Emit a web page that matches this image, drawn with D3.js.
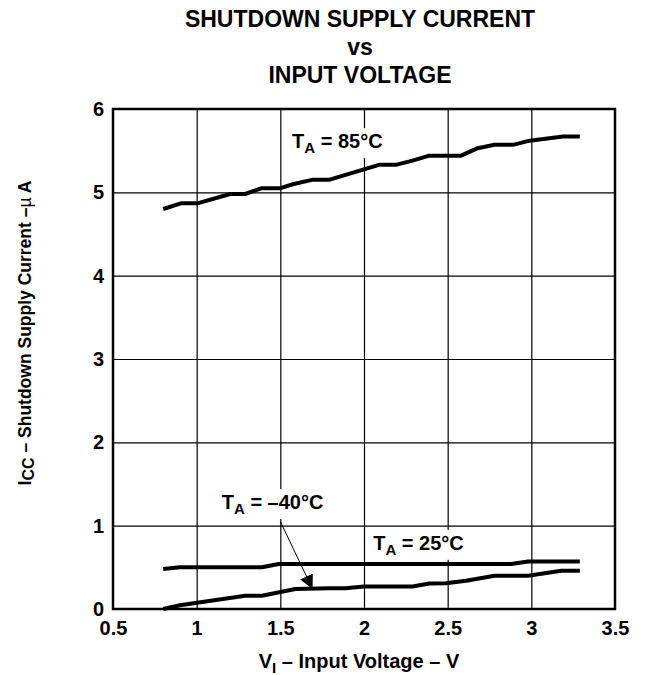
<!DOCTYPE html>
<html>
<head>
<meta charset="utf-8">
<script src="https://cdn.jsdelivr.net/npm/d3@7"></script>
<style>
  body { margin: 0; background: white; }
  text { font-family: "Liberation Sans", Arial, sans-serif; font-weight: bold; fill: black; }
</style>
</head>
<body>
<script>
// chart values
var xTicks = [0.5, 1, 1.5, 2, 2.5, 3, 3.5];
var yTicks = [0, 1, 2, 3, 4, 5, 6];
var titleLines = ['SHUTDOWN SUPPLY CURRENT', 'vs', 'INPUT VOLTAGE'];

var volt85 = [0.8, 0.91, 1.01, 1.2, 1.29, 1.39, 1.5, 1.58, 1.69, 1.79, 2.09, 2.19, 2.29, 2.39, 2.58, 2.68, 2.78, 2.89, 2.99, 3.19, 3.29];
var curr85 = [4.80, 4.87, 4.87, 4.98, 4.98, 5.05, 5.05, 5.10, 5.15, 5.15, 5.33, 5.33, 5.38, 5.44, 5.44, 5.53, 5.57, 5.57, 5.62, 5.67, 5.67];

var volt25 = [0.8, 0.9, 1.39, 1.49, 2.88, 2.98, 3.29];
var curr25 = [0.48, 0.50, 0.50, 0.54, 0.54, 0.57, 0.57];

var voltM40 = [0.8, 0.9, 1.29, 1.39, 1.59, 1.79, 1.89, 2.0, 2.29, 2.39, 2.49, 2.61, 2.78, 2.98, 3.18, 3.29];
var currM40 = [0.0, 0.045, 0.16, 0.16, 0.24, 0.25, 0.25, 0.27, 0.27, 0.305, 0.31, 0.34, 0.40, 0.40, 0.46, 0.46];

// curve labels, placed in data units
var labels = [
  { rest: ' = 85\u00b0C', v: 1.57, i: 5.53 },
  { rest: ' = \u201340\u00b0C', v: 1.15, i: 1.2 },
  { rest: ' = 25\u00b0C', v: 2.055, i: 0.71 }
];
var arrowFrom = [1.5, 1.05];
var arrowTo = [1.69, 0.25];

var opts = {
  width: 647,
  height: 675,
  left: 113,
  right: 615,
  top: 109,
  bottom: 609
};

var svg = d3.select('body').append('svg')
  .attr('width', opts.width)
  .attr('height', opts.height);

var x = d3.scaleLinear().domain([0.5, 3.5]).range([opts.left, opts.right]);
var y = d3.scaleLinear().domain([0, 6]).range([opts.bottom, opts.top]);

// grid
svg.append('g')
  .attr('transform', 'translate(0,' + opts.bottom + ')')
  .call(d3.axisBottom(x).tickValues(xTicks.slice(1, -1)).tickSize(-(opts.bottom - opts.top)).tickFormat(''))
  .call(function(g) { g.select('.domain').remove(); })
  .selectAll('line').attr('stroke', '#000').attr('stroke-width', 1.2);

svg.append('g')
  .attr('transform', 'translate(' + opts.left + ',0)')
  .call(d3.axisLeft(y).tickValues(yTicks.slice(1, -1)).tickSize(-(opts.right - opts.left)).tickFormat(''))
  .call(function(g) { g.select('.domain').remove(); })
  .selectAll('line').attr('stroke', '#000').attr('stroke-width', 1.2);

// tick labels
var xAxis = svg.append('g')
  .attr('transform', 'translate(0,' + opts.bottom + ')')
  .call(d3.axisBottom(x).tickValues(xTicks).tickSize(0).tickPadding(12).tickFormat(d3.format('')));
xAxis.select('.domain').remove();
xAxis.selectAll('text').attr('font-size', 20).attr('font-family', null);

var yAxis = svg.append('g')
  .attr('transform', 'translate(' + opts.left + ',0)')
  .call(d3.axisLeft(y).tickValues(yTicks).tickSize(0).tickPadding(9).tickFormat(d3.format('')));
yAxis.select('.domain').remove();
yAxis.selectAll('text').attr('font-size', 20).attr('font-family', null);

// curve labels with white backing
var labelGroup = svg.append('g');
labels.forEach(function(l) {
  var g = labelGroup.append('g');
  var t = g.append('text')
    .attr('x', x(l.v))
    .attr('y', y(l.i))
    .attr('font-size', 20);
  t.append('tspan').text('T');
  t.append('tspan').attr('font-size', 15).attr('dy', 5).text('A');
  t.append('tspan').attr('dy', -5).text(l.rest);
  var b = t.node().getBBox();
  g.insert('rect', 'text')
    .attr('x', b.x - 6)
    .attr('y', b.y - 2)
    .attr('width', b.width + 12)
    .attr('height', b.height + 4)
    .attr('fill', 'white');
});

// curves
var line = d3.line()
  .x(function(d) { return x(d[0]); })
  .y(function(d) { return y(d[1]); });

var series = [
  d3.zip(volt85, curr85),
  d3.zip(volt25, curr25),
  d3.zip(voltM40, currM40)
];

svg.selectAll('.curve')
  .data(series)
  .enter().append('path')
  .attr('class', 'curve')
  .attr('d', line)
  .attr('fill', 'none')
  .attr('stroke', '#000')
  .attr('stroke-width', 4)
  .attr('stroke-linejoin', 'round');

// frame
svg.append('rect')
  .attr('x', opts.left)
  .attr('y', opts.top)
  .attr('width', opts.right - opts.left)
  .attr('height', opts.bottom - opts.top)
  .attr('fill', 'none')
  .attr('stroke', '#000')
  .attr('stroke-width', 2.5);

// arrow to -40 curve
svg.append('defs').append('marker')
  .attr('id', 'head')
  .attr('markerUnits', 'userSpaceOnUse')
  .attr('viewBox', '0 -8 14 16')
  .attr('refX', 13)
  .attr('refY', 0)
  .attr('markerWidth', 14)
  .attr('markerHeight', 16)
  .attr('orient', 'auto')
  .append('path')
  .attr('d', 'M0,-7L14,0L0,7Z')
  .attr('fill', '#000');

svg.append('line')
  .attr('x1', x(arrowFrom[0]))
  .attr('y1', y(arrowFrom[1]))
  .attr('x2', x(arrowTo[0]))
  .attr('y2', y(arrowTo[1]))
  .attr('stroke', '#000')
  .attr('stroke-width', 1)
  .attr('marker-end', 'url(#head)');

// title
svg.selectAll('.title')
  .data(titleLines)
  .enter().append('text')
  .attr('class', 'title')
  .attr('x', 360)
  .attr('y', function(d, i) { return 27 + i * 28; })
  .attr('text-anchor', 'middle')
  .attr('font-size', 23)
  .text(function(d) { return d; });

// axis titles
var xt = svg.append('text')
  .attr('x', 359)
  .attr('y', 668)
  .attr('text-anchor', 'middle')
  .attr('font-size', 20);
xt.append('tspan').text('V');
xt.append('tspan').attr('font-size', 15).attr('dy', 5).text('I');
xt.append('tspan').attr('dy', -5).text(' \u2013 Input Voltage \u2013 V');

var yt = svg.append('text')
  .attr('transform', 'translate(31,333) rotate(-90)')
  .attr('text-anchor', 'middle')
  .attr('font-size', 17.5);
yt.append('tspan').text('I');
yt.append('tspan').attr('font-size', 16).attr('dy', 3).text('CC');
yt.append('tspan').attr('dy', -3).text(' \u2013 Shutdown Supply Current \u2013');
yt.append('tspan').attr('font-weight', 'normal').text('\u00b5');
yt.append('tspan').text(' A');
</script>
</body>
</html>
